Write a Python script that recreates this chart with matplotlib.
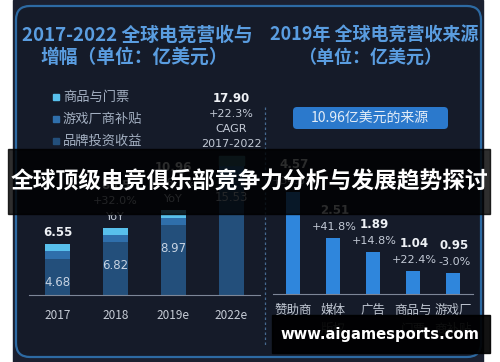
import matplotlib
matplotlib.use("Agg")
import matplotlib.pyplot as plt
from matplotlib.patches import FancyBboxPatch, Rectangle

plt.rcParams['font.family'] = ['Noto Sans CJK SC', 'DejaVu Sans']

# left chart: 2017-2022 revenue split (亿美元)
years = ['2017', '2018', '2019e', '2022e']
brand = [4.68, 6.82, 8.97, 15.53]        # 品牌投资收益
publisher = [1.00, 0.94, 0.95, 1.20]     # 游戏厂商补贴
merch = [0.87, 0.89, 1.04, 1.17]         # 商品与门票
totals = ['6.55', '8.65', '10.96', '17.90']
growth = [[], ['+32.0%', 'YoY'], ['+26.7%', 'YoY'], ['+22.3%', 'CAGR', '2017-2022']]
legend_labels = ['商品与门票', '游戏厂商补贴', '品牌投资收益']

# right chart: 2019 sources
sources = ['赞助商', '媒体\n版权', '广告', '商品与\n门票', '游戏厂\n商补贴']
src_vals = [4.57, 2.51, 1.89, 1.04, 0.95]
src_growth = ['+34.3%', '+41.8%', '+14.8%', '+22.4%', '-3.0%']

C_MERCH = '#58c0ec'
C_PUB = '#2f6fab'
C_BRAND = '#234f7b'
C_SRC = '#2f86dc'
TITLE = '#5a9de0'
W, H = 500, 362

fig = plt.figure(figsize=(5, 3.62), dpi=100, facecolor='white')

# background layer in pixel coords
bg = fig.add_axes([0, 0, 1, 1], zorder=0)
bg.set_xlim(0, W)
bg.set_ylim(H, 0)
bg.axis('off')
bg.add_patch(Rectangle((13, 0), 470, H, color='#1b2030'))
bg.add_patch(FancyBboxPatch((16, 6), 465, 351, boxstyle='round,pad=0,rounding_size=14',
                            facecolor='#151b29', edgecolor='#2d6aa3', lw=1.6))
bg.plot([265, 265], [107, 345], color='#466a90', lw=0.9, ls=(0, (2, 2)))

bg.text(137, 35, '2017-2022 全球电竞营收与', color=TITLE, fontsize=13.5,
        fontweight='bold', ha='center', va='center')
bg.text(134, 57, '增幅（单位：亿美元）', color=TITLE, fontsize=13.5,
        fontweight='bold', ha='center', va='center')
bg.text(374, 35, '2019年 全球电竞营收来源', color=TITLE, fontsize=13,
        fontweight='bold', ha='center', va='center')
bg.text(370, 57, '（单位：亿美元）', color=TITLE, fontsize=13,
        fontweight='bold', ha='center', va='center')

for i, (lab, c) in enumerate(zip(legend_labels, [C_MERCH, C_PUB, C_BRAND])):
    y = 97 + i * 22
    bg.add_patch(Rectangle((53, y - 3), 6, 6, color=c))
    bg.text(63, y, lab, color='#a4b0c2', fontsize=9.5, va='center')

bg.add_patch(FancyBboxPatch((293, 107), 155, 22, boxstyle='round,pad=0,rounding_size=4',
                            facecolor='#2b79cc', edgecolor='none'))
bg.text(370, 118, '10.96亿美元的来源', color='#e2ecf7', fontsize=10,
        ha='center', va='center')

# left bar chart
px_unit = 7.79
ax1 = fig.add_axes([29 / W, (H - 295) / H, 231 / W, 150 / H], zorder=2)
ax1.set_xlim(-0.5, 3.5)
ax1.set_ylim(0, 150 / px_unit)
ax1.patch.set_visible(False)
for s in ['top', 'right', 'left']:
    ax1.spines[s].set_visible(False)
ax1.spines['bottom'].set_color('#7d8697')
x = range(len(years))
bottom2 = [b + p for b, p in zip(brand, publisher)]
ax1.bar(x, brand, width=0.43, color=C_BRAND)
ax1.bar(x, publisher, width=0.43, bottom=brand, color=C_PUB)
bars = ax1.bar(x, merch, width=0.43, bottom=bottom2, color=C_MERCH)
bars[-1].set_color('#3b7282')
ax1.set_yticks([])
ax1.set_xticks(list(x))
ax1.set_xticklabels(years, color='#c6ccd6', fontsize=8.5)
ax1.tick_params(axis='x', length=0, pad=10)

for i in x:
    top = bottom2[i] + merch[i]
    lines = growth[i]
    n = len(lines)
    for k, txt in enumerate(reversed(lines)):
        ax1.annotate(txt, (i, top), xytext=(0, 8 + k * 11), textcoords='offset points',
                     ha='center', va='center', color='#c3cad6', fontsize=8,
                     family=['DejaVu Sans'])
    ax1.annotate(totals[i], (i, top), xytext=(0, 8 + n * 11), textcoords='offset points',
                 ha='center', va='center', color='#eef1f5', fontsize=8.5,
                 fontweight='bold', family=['DejaVu Sans'])
    ax1.annotate(f'{brand[i]:.2f}', (i, brand[i]), xytext=(0, -17), textcoords='offset points',
                 ha='center', va='center', color='#c7d3e2', fontsize=8.5,
                 family=['DejaVu Sans'])

# right bar chart
px_unit2 = 22.3
ax2 = fig.add_axes([273 / W, (H - 294) / H, 200 / W, 150 / H], zorder=2)
ax2.set_xlim(-0.5, 4.5)
ax2.set_ylim(0, 150 / px_unit2)
ax2.patch.set_visible(False)
for s in ['top', 'right', 'left']:
    ax2.spines[s].set_visible(False)
ax2.spines['bottom'].set_color('#7d8697')
x2 = range(len(sources))
ax2.bar(x2, src_vals, width=0.33, color=C_SRC)
ax2.set_yticks([])
ax2.set_xticks(list(x2))
ax2.set_xticklabels(sources, color='#c0c7d2', fontsize=9, linespacing=1.6, va='top')
ax2.tick_params(axis='x', length=0, pad=7)
for i in x2:
    ax2.annotate(src_growth[i], (i, src_vals[i]), xytext=(1, 8), textcoords='offset points',
                 ha='center', va='center', color='#c3cad6', fontsize=8,
                 family=['DejaVu Sans'])
    ax2.annotate(f'{src_vals[i]:.2f}', (i, src_vals[i]), xytext=(1, 20), textcoords='offset points',
                 ha='center', va='center', color='#eef1f5', fontsize=8.5,
                 fontweight='bold', family=['DejaVu Sans'])

# overlay banner + watermark
ov = fig.add_axes([0, 0, 1, 1], zorder=10)
ov.set_xlim(0, W)
ov.set_ylim(H, 0)
ov.axis('off')
ov.add_patch(Rectangle((8, 149), 482, 65, color='black', alpha=0.82))
ov.text(249, 182, '全球顶级电竞俱乐部竞争力分析与发展趋势探讨', color='white',
        fontsize=16.4, fontweight='bold', ha='center', va='center')
ov.add_patch(Rectangle((272, 315), 218, 38, color='black', alpha=0.93))
ov.text(380, 334, 'www.aigamesports.com', color='white', fontsize=10.6,
        fontweight='bold', ha='center', va='center', family=['DejaVu Sans'])

fig.savefig('out.png', dpi=100, facecolor='white')
